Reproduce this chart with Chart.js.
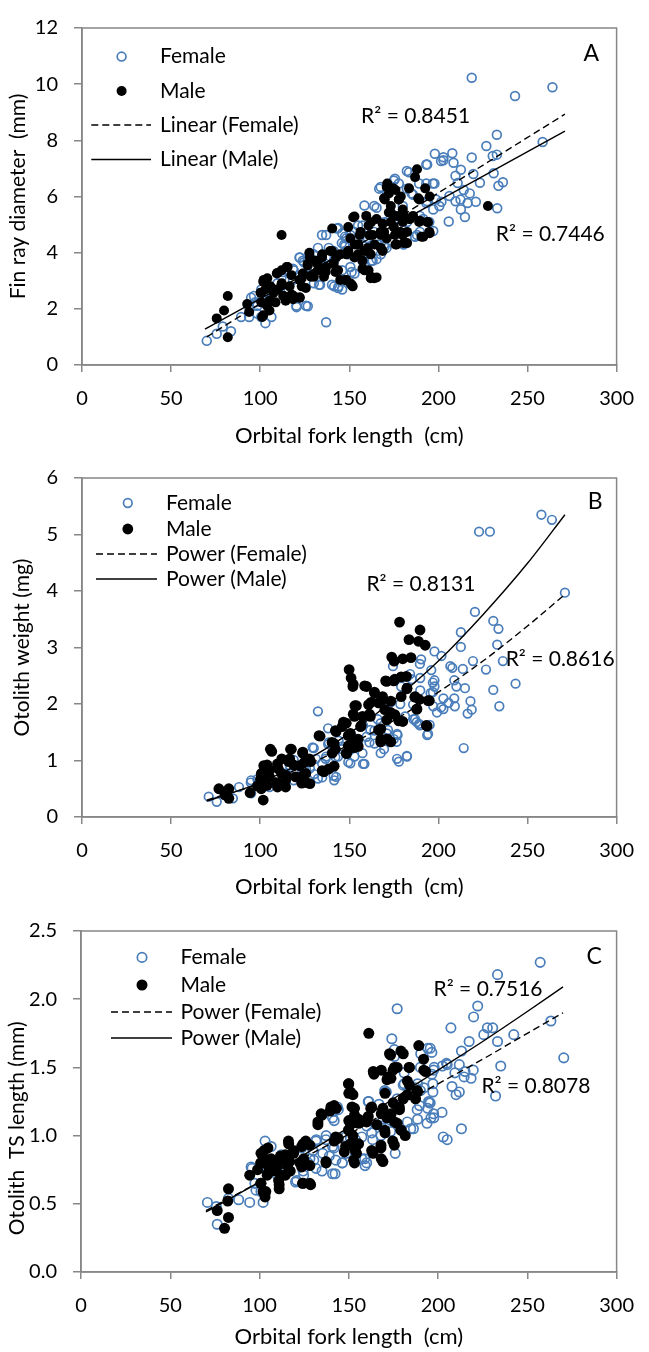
<!DOCTYPE html>
<html>
<head>
<meta charset="utf-8">
<title>Fin ray and otolith size vs orbital fork length</title>
<script src="https://cdn.jsdelivr.net/npm/chart.js@4.4.1/dist/chart.umd.min.js"></script>
<style>
  body { margin: 0; background: #fff; }
  canvas { position: absolute; left: 0; }
</style>
</head>
<body>
<canvas id="chartA" width="649" height="460" style="top:0px"></canvas>
<canvas id="chartB" width="649" height="460" style="top:450px"></canvas>
<canvas id="chartC" width="649" height="460" style="top:892px"></canvas>
<script>
// ---- data: [orbital fork length (cm), value] ----
const femaleFinRay = [
  [218.7,10.23],[264,9.89],[243,9.58],[258.5,7.94],[232.8,8.2],[226.9,7.8],[232.8,7.49],[230.5,7.44],
  [218.7,7.39],[198,7.52],[207.8,7.54],[202.8,7.4],[202.8,7.29],[193.7,7.14],[208.5,7.2],[212.6,6.95],
  [219.6,6.8],[231,6.83],[183.5,6.86],[209.6,6.74],[236.2,6.51],[233.7,6.38],[223.3,6.49],[197.8,6.46],
  [189.2,6.46],[210.8,6.48],[167.6,6.34],[175.6,6.63],[177.8,6.46],[214.2,6.23],[217.6,6.11],[206.2,6.02],
  [212.4,5.89],[221,5.81],[209.6,5.83],[216.4,5.77],[201.7,5.81],[233,5.58],[212.6,5.54],[214.9,5.27],
  [205.8,5.11],[193.7,5.83],[197.1,5.54],[158.5,5.68],[165.3,5.6],[185.8,6.06],[180,5.66],[186.9,4.57],
  [197.1,4.77],[172.2,5.14],[157.4,4.97],[143.7,4.88],[137,4.63],[148.3,4.51],[147.2,4.29],[152.9,4.4],
  [146,4.69],[152.9,4.74],[163.1,3.71],[165.3,3.77],[166.4,4.29],[169.9,4.23],[122.2,3.83],[124.5,3.66],
  [130.1,3.94],[132.4,4.17],[137,3.83],[127.9,3.26],[133.6,2.86],[130.1,2.91],[141.5,2.8],[143.7,2.74],
  [146,2.69],[146,3.37],[152.9,3.26],[120.4,2.06],[126.7,2.09],[137,1.52],[112,3.14],[114.3,2.57],
  [100.6,1.71],[102.9,1.49],[106.3,1.71],[94.9,2.4],[93.8,1.71],[89.3,1.71],[98.3,1.83],[93.8,2.06],
  [75.6,1.11],[83.6,1.2],[79,1.37],[70,0.86],[105.2,2.34],[100.6,2.69],[134.7,4.63],[150.6,4.63],
  [155,4.29],[159.7,4.06],[170.9,4.17],[176.6,4.91],[182.4,5.09],[191.5,5.2],[188,4.63],[194.9,5.09],
  [200.5,5.66],[173.3,5.43],[159.7,4.51],[141.5,3.71],[118.8,3.37],[124.5,3.26],[134.7,3.49],[150.6,3.49],
  [157.4,3.71],[109.7,2.91],[104,2.46],[97.2,2.23],
  [143,4.86],[147.6,4.57],[145.8,4.34],[154.9,4.97],[156.8,4.69],[164,5.66],[166.8,6.28],[175,6.57],
  [182.3,6.91],[193.2,7.14],[201.5,7.26],[196.9,6.46],[198.7,5.89],[193.2,5.77],[189.6,5.31],[186.9,4.57],
  [178.6,4.4],[180.5,4.29],[169.5,4.29],[167.7,3.94],[162.2,3.71],[157.7,3.71],[151.3,3.31],[149.4,2.91],
  [144,2.8],[140.3,2.86],[133,2.86],[132.1,3.14],[129.4,3.49],[123.9,3.71],[122.1,3.83],[118.4,3.43],
  [125.7,2.11],[120.3,2.11],[112.9,3.31],[111.1,2.69],[105.7,2.34],[96.5,2.46],[98.4,2.11],[141.2,4.06],
  [138.5,4.17],[147.6,4.23],[171.3,6.11],[182.3,6.28],[185,6.11],[193.2,6.46],[189.6,4.74],[175,5.08],
  [169.5,5.08],[164,4.74],[160.4,4.51],[149.4,3.94],[136.7,3.6],[131.2,3.71],[127.6,3.94],[118.4,3.03]
];
const maleFinRay = [
  [112,4.63],[81.8,2.46],[79.7,1.94],[75.6,1.66],[81.8,0.99],[92.7,2.17],[93.8,1.89],[101.7,1.77],
  [105.2,1.94],[100.6,2.57],[101.7,2.97],[104,3.09],[106.3,2.74],[109.7,2.69],[112,2.86],[109.7,3.28],
  [113.2,2.46],[114.3,2.29],[117.6,2.51],[116.5,2.8],[122.2,2.4],[123.3,2.8],[125.6,2.74],[115.4,3.49],
  [123.3,3.09],[127.9,3.83],[126.7,3.54],[131.2,3.71],[134.7,3.83],[137,3.49],[135.8,3.14],[132.4,3.37],
  [130.1,3.14],[139.2,4.06],[140.4,4.86],[142.6,3.83],[143.7,3.37],[144.9,3.03],[148.3,3.03],[150.6,2.91],
  [151.9,2.8],[149.4,4.06],[150.6,4.51],[152.9,5.29],[155,4.29],[156.3,4.74],[157.4,3.71],[158.5,4.06],
  [157.4,3.43],[160.8,3.37],[162,3.09],[165.3,3.12],[162,3.94],[160.8,4.97],[163.1,4.63],[164.2,4.29],
  [165.3,5.2],[167.6,4.74],[168.7,4.06],[168.7,5.03],[169.9,5.89],[171,6.34],[172.2,6.11],[173.3,5.66],
  [174.5,6.29],[172.2,5.43],[173.3,5.09],[175.6,4.63],[176.6,4.29],[177.8,5.89],[178.9,6.0],[180,5.54],
  [180,5.09],[180,4.63],[182.4,4.34],[183.5,6.29],[183.5,5.2],[185.8,5.31],[186.9,6.69],[188,6.97],
  [189.2,5.89],[189.2,5.09],[191.5,4.57],[192.6,6.29],[193.7,5.09],[194.9,4.74],[227.8,5.66],[182.4,4.74],
  [176.6,5.31],[171,4.51],[152.9,3.83],[148.3,3.94],[118.8,2.46],[108.6,2.23],[105.2,2.29],[112,3.37],
  [100.6,2.23],[102.9,2.69],
  [171.3,6.46],[175.9,6.23],[169.5,5.94],[177.8,5.89],[188.7,5.94],[195.1,6.0],[173.2,5.43],[180.5,5.37],
  [184.1,5.2],[189.6,5.14],[194.2,5.08],[195.1,4.69],[190.5,4.57],[178.6,4.74],[175,4.91],[169.5,4.74],
  [175.9,4.29],[180.5,4.34],[167.7,4.17],[167.7,4.63],[162.2,5.08],[159.5,5.31],[152.2,5.26],[149.4,4.91],
  [155.9,4.63],[161.3,4.63],[153.1,4.29],[149.4,4.06],[154.9,3.94],[160.4,4.17],[158.6,3.37],[162.2,3.14],
  [164,3.09],[151.3,2.86],[147.6,3.03],[142.2,3.31],[141.2,3.6],[144.9,3.94],[140.3,4.06],[134.8,3.94],
  [132.1,3.6],[136.7,3.31],[127.6,4.0],[126.6,3.6],[123.9,3.26],[128.5,3.14],[122.1,3.03],[117.5,3.2],
  [114.8,3.49],[109.3,3.26],[112.1,2.91],[105.7,2.8],[102,3.03],[100.2,2.57],[107.5,2.57],[112.9,2.46],
  [118.4,2.34],[122.1,2.4],[103.8,2.11],[101.1,1.71]
];
const femaleOtoWeight = [
  [257.8,5.35],[263.7,5.26],[222.8,5.05],[228.9,5.05],[271,3.97],[220.5,3.63],[230.8,3.47],[233.7,3.33],
  [212.6,3.27],[212.6,3.01],[233,3.05],[197.8,2.93],[201.7,2.85],[190.3,2.79],[236.2,2.76],[219.4,2.76],
  [206.7,2.67],[207.8,2.64],[213.7,2.62],[226.7,2.61],[196,2.6],[189.8,2.46],[197.8,2.42],[208.9,2.42],
  [243.3,2.36],[197.8,2.31],[210.1,2.31],[214.9,2.28],[230.8,2.25],[189.8,2.24],[195.6,2.19],[202.8,2.1],
  [208.9,2.1],[218,2.05],[205.8,2.02],[209.2,1.96],[202.8,1.91],[197.1,1.96],[234.2,1.96],[218.7,1.9],
  [216.4,1.83],[199.2,1.85],[186.9,1.73],[189.2,1.65],[195.1,1.63],[193.7,1.45],[214.2,1.22],[132.4,1.87],
  [138.1,1.57],[174.5,2.67],[182.4,2.48],[179.1,2.31],[177.1,1.45],[176.6,1.33],[167.6,1.13],[177.8,0.98],
  [182.4,1.07],[158.5,0.94],[150.6,0.95],[157.4,1.13],[164.2,1.3],[171,1.48],[130.1,1.22],[138.1,1.29],
  [143.7,1.07],[142.6,0.71],[141.5,0.65],[132.4,0.68],[124.5,0.86],[118.8,1.01],[114.3,0.77],[109.7,0.59],
  [105.2,0.53],[100.6,0.59],[94.9,0.65],[94.9,0.42],[88.1,0.53],[84.7,0.33],[75.6,0.27],[71.1,0.36],
  [80.2,0.39],[127.9,0.86],[134.7,0.95],[146,1.25],[150.6,1.19],[155,1.33],[161.8,1.54],[167.6,1.66],
  [171.7,1.54],[181.3,1.78],[185.8,1.99],[118.8,0.65],[123.3,0.77],[137,1.07],[152.9,1.07],[159.7,1.42],
  [129.4,1.23],[138.5,1.32],[144,1.35],[149.4,0.97],[157.7,0.94],[141.2,0.73],[134.8,0.7],[130.3,0.76],
  [123.9,0.76],[116.6,0.91],[161.3,1.32],[164.1,1.53],[169.5,1.2],[176.8,1.03],[182.3,1.08],[176.8,1.47],
  [175,1.38],[186,1.73],[187.8,1.68],[194.2,1.47],[189.6,1.62],[196.9,2.38],[196.9,2.21],[201.5,1.94],
  [185,2.44],[189.6,2.71],[184.1,2.53],[173.2,2.03],[178.6,2.0],[165.9,1.73],[157.7,1.62],[151.3,1.44],
  [145.8,1.2],[142.2,1.06],[136.7,1.03],[131.2,1.03],[125.7,0.85],[120.3,0.79],[112.9,0.73],[105.7,0.61],
  [98.4,0.67],[94.7,0.61]
];
const maleOtoWeight = [
  [178.2,3.45],[189.7,3.31],[183.5,3.14],[188.8,3.11],[192.6,3.04],[173.8,2.83],[175.2,2.76],[180,2.8],
  [184.6,2.82],[149.9,2.61],[151,2.46],[152,2.31],[171,2.4],[175.6,2.44],[179.1,2.48],[182,2.49],
  [159.7,2.31],[164.2,2.19],[182.4,2.28],[168.7,2.13],[160.8,1.99],[166.4,2.02],[173.3,2.05],[179.1,2.13],
  [186.9,2.13],[194.9,2.06],[188,1.91],[154,1.97],[152.9,1.78],[169.9,1.9],[175.6,1.81],[180,1.69],
  [161.8,1.78],[148.3,1.66],[156.3,1.6],[166.4,1.54],[193.7,1.61],[171,1.38],[173.3,1.33],[167.6,1.33],
  [142.6,1.51],[133.6,1.43],[150.6,1.48],[152.9,1.36],[155,1.25],[148.3,1.13],[150.6,1.22],[141.5,1.3],
  [140.4,1.13],[106.5,1.16],[117,1.2],[123.8,1.13],[116,0.98],[118.8,0.92],[128.3,0.98],[124.5,0.96],
  [141.5,0.9],[135.8,0.8],[103.9,0.92],[109.7,0.94],[105.2,0.83],[100.6,0.77],[105.2,0.71],[112,0.77],
  [114.3,0.65],[109.7,0.53],[103.9,0.56],[100.6,0.5],[101.7,0.3],[94.3,0.43],[114.3,0.53],[123.3,0.6],
  [127.9,0.59],[125.6,0.77],[119.9,0.71],[76.8,0.5],[82.4,0.5],[82.4,0.33],[80.2,0.39],[189.2,2.08],
  [171,1.72],[157.4,1.78],[146,1.6],
  [152.2,2.35],[158.6,2.32],[164.1,2.21],[170.4,2.41],[175,2.41],[182.3,2.27],[186.8,2.12],[194.2,2.06],
  [187.8,1.91],[193.2,1.62],[177.8,1.7],[173.2,1.85],[167.7,2.03],[162.2,2.03],[161.3,1.82],[153.1,1.97],
  [152.2,1.82],[146.7,1.68],[156.7,1.62],[142.2,1.53],[149.4,1.44],[154.9,1.38],[167.7,1.56],[167.7,1.38],
  [171.3,1.38],[149.4,1.26],[153.1,1.23],[148.5,1.12],[140.3,1.32],[133,1.44],[142.2,1.2],[138.5,0.85],
  [134.8,0.82],[127.6,1.03],[123.9,1.15],[117.5,1.2],[105.7,1.2],[116.6,1.03],[122.1,0.91],[125.7,0.61],
  [123.9,0.73],[114.8,0.73],[109.3,0.61],[103.8,0.79],[102,0.91],[100.2,0.67],[98.4,0.55],[112.1,1.03],
  [110.2,0.85]
];
const femaleTsLength = [
  [257.2,2.27],[233.3,2.18],[177.1,1.93],[222.2,1.95],[219.9,1.87],[263.2,1.84],[207.2,1.79],[227.6,1.79],
  [230.6,1.79],[242.4,1.74],[225.6,1.74],[174.1,1.71],[233.3,1.69],[217.4,1.69],[194.2,1.64],[175.5,1.63],
  [196.5,1.61],[190.3,1.6],[213.1,1.62],[205.1,1.52],[211.9,1.52],[202.4,1.51],[197.8,1.5],[235.1,1.51],
  [219.7,1.48],[215.1,1.47],[209.4,1.46],[214.6,1.43],[218.5,1.42],[270.4,1.57],[188.5,1.38],[197.1,1.38],
  [207.8,1.36],[180.5,1.37],[197.1,1.32],[211.9,1.32],[210.1,1.3],[232.2,1.29],[170.3,1.32],[177.1,1.27],
  [161.2,1.25],[195.1,1.24],[189.6,1.22],[194.2,1.2],[166.9,1.23],[202.2,1.17],[188.5,1.12],[196,1.13],
  [197.6,1.13],[169.1,1.12],[213.1,1.05],[186.2,1.05],[205.1,0.97],[141.8,1.18],[141.8,1.11],[144.1,1.19],
  [155.5,1.1],[160,1.07],[163.4,0.97],[168,1.0],[173.4,1.03],[176,0.87],[160,0.8],[158.9,0.83],
  [148.6,0.87],[146.4,0.8],[142.3,0.72],[135,0.74],[131.6,0.76],[130.4,0.82],[128.2,0.83],[137.3,1.0],
  [131.6,0.96],[141.8,0.91],[139.1,0.85],[123.6,0.91],[120.2,0.66],[124.7,0.71],[103.1,0.96],[106.5,0.92],
  [113.4,0.78],[115.6,0.81],[95.8,0.76],[97.4,0.65],[100.8,0.59],[102,0.51],[94.5,0.51],[88.3,0.53],
  [82.6,0.54],[70.8,0.51],[76.3,0.35],[75.8,0.48],[104.3,0.74],[109.9,0.71],[112.2,0.86],[150.9,0.98],
  [153.2,0.93],[182.8,1.1],[187.4,1.35],[192,1.35],[196.5,1.45],
  [140.9,1.13],[143.6,1.21],[160.9,1.25],[170.1,1.33],[181,1.38],[190.1,1.33],[195.6,1.24],[188.3,1.19],
  [197.5,1.16],[193.8,1.09],[184.7,1.05],[173.7,1.11],[168.2,1.07],[162.8,1.02],[157.3,0.99],[153.7,0.97],
  [148.2,0.99],[140.9,0.92],[137.2,0.97],[131.8,0.97],[129.9,0.89],[135.4,0.87],[142.7,0.82],[146.3,0.8],
  [157.3,0.83],[159.1,0.78],[140.9,0.72],[127.2,0.8],[120.8,0.67],[124.4,0.74],[98,0.6],[95.3,0.77],
  [175.5,1.58],[181,1.46],[171,1.32],[194.7,1.25],[202.9,0.99],[190.1,1.5],[197.5,1.48],[195.6,1.64],
  [204.7,1.53]
];
const maleTsLength = [
  [161.2,1.75],[189.2,1.66],[191.9,1.56],[180.5,1.6],[173.4,1.59],[193,1.47],[183.9,1.5],[177.1,1.5],
  [174.8,1.48],[164.1,1.45],[171.4,1.41],[182.8,1.4],[184,1.37],[149.8,1.38],[150.9,1.32],[152.3,1.3],
  [170.3,1.31],[180.5,1.27],[187.4,1.27],[188.5,1.32],[174.8,1.24],[178.4,1.19],[169.1,1.2],[162.3,1.2],
  [153.2,1.2],[143,1.2],[139.5,1.18],[135,1.15],[132.7,1.08],[153.2,1.15],[155.5,1.12],[160,1.1],
  [165.7,1.08],[171.4,1.13],[177.1,1.09],[179.3,1.04],[181.6,1.0],[170.3,1.02],[150.9,1.08],[149.8,1.04],
  [152.3,1.0],[155.5,0.94],[150.9,0.94],[144.1,0.98],[141.8,0.96],[147.5,0.88],[154.3,0.87],[163.6,0.87],
  [168,0.93],[168,0.91],[175.5,0.93],[153.2,0.8],[169.1,0.81],[137.3,0.8],[128.2,0.93],[125.9,0.96],
  [123.6,0.92],[116.3,0.94],[119.1,0.87],[114.5,0.86],[112.2,0.83],[116.8,0.81],[124.7,0.83],[128.2,0.78],
  [123.6,0.77],[114.5,0.71],[115.6,0.78],[104.7,0.91],[100.8,0.87],[103.1,0.82],[106.5,0.83],[100.8,0.8],
  [105.2,0.77],[109.9,0.78],[108.8,0.74],[112.2,0.71],[104.3,0.71],[94.5,0.71],[100.8,0.65],[111,0.64],
  [111,0.61],[103.1,0.55],[102,0.59],[124.1,0.65],[128.6,0.64],[82.6,0.61],[82.2,0.52],[76.3,0.45],
  [82.6,0.4],[80.4,0.32],[173.6,1.42],
  [172.8,1.6],[179.2,1.62],[183.8,1.5],[175.6,1.5],[168.2,1.48],[163.7,1.47],[192,1.48],[171.9,1.43],
  [150,1.38],[150,1.31],[188.3,1.33],[182.8,1.3],[178.3,1.21],[173.7,1.16],[168.2,1.16],[162.8,1.21],
  [160.9,1.14],[151.8,1.21],[141.8,1.22],[140,1.21],[134.5,1.16],[132.7,1.1],[150,1.11],[155.5,1.09],
  [150,1.04],[142.7,0.99],[148.2,0.92],[153.7,0.89],[152.7,0.82],[162.8,0.89],[168.2,0.83],[174.6,0.96],
  [170.1,1.04],[175.6,1.1],[179.2,1.04],[137.2,0.81],[124.4,0.94],[119,0.89],[122.6,0.8],[116.2,0.96],
  [111.7,0.85],[117.2,0.74],[110.7,0.67],[105.3,0.82],[102.5,0.89],[100.7,0.8],[98.9,0.75],[104.4,0.72],
  [100.7,0.65],[103.5,0.59],[124.4,0.65],[128.1,0.65]
];

// trendlines as drawn in the figure
const finRayFitFemale = [[70,1.0],[271,8.93]];
const finRayFitMale = [[69,1.28],[271,8.33]];
const otoWeightFitFemale = [[70,0.3],[100,0.59],[125,0.9],[150,1.28],[175,1.71],[200,2.21],[225,2.76],[250,3.38],[271,3.94]];
const otoWeightFitMale = [[70,0.28],[100,0.61],[125,0.99],[150,1.48],[175,2.07],[200,2.76],[225,3.58],[250,4.49],[271,5.35]];
const tsFitFemale = [[70,0.45],[100,0.66],[125,0.84],[150,1.01],[175,1.2],[200,1.38],[225,1.56],[250,1.75],[270,1.9]];
const tsFitMale = [[70,0.44],[100,0.66],[125,0.86],[150,1.06],[175,1.27],[200,1.48],[225,1.69],[250,1.91],[270,2.09]];

const xTicks = [0, 50, 100, 150, 200, 250, 300];
const r2FinRay = ['R\u00b2 = 0.8451', 'R\u00b2 = 0.7446'];
const r2OtoWeight = ['R\u00b2 = 0.8131', 'R\u00b2 = 0.8616'];
const r2TsLength = ['R\u00b2 = 0.7516', 'R\u00b2 = 0.8078'];

const FONT = 'Lato, "Open Sans", sans-serif';
const BLUE = '#4a7ebb';
const GREY = '#878787';

const toXY = pts => pts.map(p => ({ x: p[0], y: p[1] }));

// border round the plot area, legend block, R2 labels and panel letter
const decor = {
  id: 'decor',
  beforeDatasetsDraw(chart) {
    const a = chart.chartArea, c = chart.ctx;
    c.save();
    c.strokeStyle = GREY;
    c.lineWidth = 1.5;
    c.strokeRect(a.left, a.top, a.right - a.left, a.bottom - a.top);
    c.restore();
  },
  afterDraw(chart, args, o) {
    const a = chart.chartArea, c = chart.ctx;
    const sx = chart.scales.x, sy = chart.scales.y;
    c.save();
    c.fillStyle = '#000';
    c.textBaseline = 'middle';
    c.font = '21px ' + FONT;
    // legend
    o.legend.forEach((txt, i) => {
      const y = a.top + o.rows[i];
      if (i === 0) {
        c.beginPath(); c.arc(a.left + o.markX, y, o.femaleR, 0, Math.PI * 2);
        c.strokeStyle = BLUE; c.lineWidth = 1.7; c.stroke();
      } else if (i === 1) {
        c.beginPath(); c.arc(a.left + o.markX, y, o.maleR, 0, Math.PI * 2);
        c.fill();
      } else {
        c.beginPath();
        c.setLineDash(i === 2 ? [7, 4] : []);
        c.moveTo(a.left + o.line[0], y); c.lineTo(a.left + o.line[1], y);
        c.strokeStyle = '#000'; c.lineWidth = 1.4; c.stroke();
        c.setLineDash([]);
      }
      c.textAlign = 'left';
      c.fillText(txt, a.left + o.textX, y);
    });
    // R2 labels and letter
    c.textAlign = 'center';
    o.labels.forEach(l => {
      c.font = (l.size || 21) + 'px ' + FONT;
      c.fillText(l.text, sx.getPixelForValue(l.x), sy.getPixelForValue(l.y));
    });
    c.restore();
  }
};

function panel(id, p) {
  const H = 460;
  return new Chart(document.getElementById(id), {
    type: 'scatter',
    data: {
      datasets: [
        { data: toXY(p.fitFemale), showLine: true, borderColor: '#000', borderWidth: 1.4,
          borderDash: [7, 4], pointRadius: 0, order: 0, cubicInterpolationMode: 'monotone' },
        { data: toXY(p.fitMale), showLine: true, borderColor: '#000', borderWidth: 1.4,
          pointRadius: 0, order: 0, cubicInterpolationMode: 'monotone' },
        { data: toXY(p.male), pointRadius: p.maleR, pointBackgroundColor: '#000',
          pointBorderWidth: 0, order: 1 },
        { data: toXY(p.female), pointRadius: p.femaleR, pointBackgroundColor: 'rgba(0,0,0,0)',
          pointBorderColor: BLUE, pointBorderWidth: 1.7, order: 2 }
      ]
    },
    options: {
      responsive: false,
      animation: false,
      devicePixelRatio: 1,
      layout: { padding: { top: p.top, right: 649 - p.right, left: 0, bottom: 0 } },
      plugins: {
        legend: { display: false },
        tooltip: { enabled: false },
        decor: p.decor
      },
      scales: {
        x: {
          type: 'linear', min: 0, max: 300,
          afterFit: s => { s.height = H - p.bottom; },
          afterBuildTicks: s => { s.ticks = xTicks.map(v => ({ value: v })); },
          ticks: { font: { family: FONT, size: 20 }, color: '#000', padding: 15 },
          grid: { drawOnChartArea: false, color: GREY, lineWidth: 1.5, tickLength: 7 },
          border: { color: GREY, width: 1.5 },
          title: { display: true, text: 'Orbital fork length  (cm)', color: '#000',
                   font: { family: FONT, size: 22 }, padding: { top: 0, bottom: p.xTitlePad } }
        },
        y: {
          type: 'linear', min: 0, max: p.yMax,
          afterFit: s => { s.width = p.left; },
          ticks: { stepSize: p.yStep, font: { family: FONT, size: 20 }, color: '#000', padding: 16,
                   callback: p.yFmt },
          grid: { drawOnChartArea: false, color: GREY, lineWidth: 1.5, tickLength: 8 },
          border: { color: GREY, width: 1.5 },
          title: { display: true, text: p.yTitle, color: '#000',
                   font: { family: FONT, size: 21 }, padding: { top: p.yTitlePad, bottom: 0 } }
        }
      }
    },
    plugins: [decor]
  });
}

panel('chartA', {
  female: femaleFinRay, male: maleFinRay, fitFemale: finRayFitFemale, fitMale: finRayFitMale,
  top: 15, bottom: 365, left: 82, right: 630, xTitlePad: 11, yTitlePad: 6,
  yMax: 12, yStep: 2, yFmt: v => v, yTitle: 'Fin ray diameter  (mm)',
  femaleR: 4.4, maleR: 5,
  decor: {
    legend: ['Female', 'Male', 'Linear (Female)', 'Linear (Male)'],
    rows: [28.6, 63, 97, 131.5], markX: 39.6, textX: 78, line: [9.3, 69], femaleR: 4.4, maleR: 5,
    labels: [
      { text: r2FinRay[0], x: 187.2, y: 8.86 },
      { text: r2FinRay[1], x: 262.8, y: 4.65 },
      { text: 'A', x: 285.8, y: 11.09, size: 23 }
    ]
  }
});

panel('chartB', {
  female: femaleOtoWeight, male: maleOtoWeight, fitFemale: otoWeightFitFemale, fitMale: otoWeightFitMale,
  top: 27, bottom: 367, left: 82, right: 630, xTitlePad: 10, yTitlePad: 10,
  yMax: 6, yStep: 1, yFmt: v => v, yTitle: 'Otolith weight (mg)',
  femaleR: 4.3, maleR: 5.4,
  decor: {
    legend: ['Female', 'Male', 'Power (Female)', 'Power (Male)'],
    rows: [25, 51, 76, 101], markX: 45.8, textX: 84, line: [14, 75], femaleR: 4.3, maleR: 5.4,
    labels: [
      { text: r2OtoWeight[0], x: 190.2, y: 4.12 },
      { text: r2OtoWeight[1], x: 268.3, y: 2.8 },
      { text: 'B', x: 288, y: 5.59, size: 23 }
    ]
  }
});

panel('chartC', {
  female: femaleTsLength, male: maleTsLength, fitFemale: tsFitFemale, fitMale: tsFitMale,
  top: 39, bottom: 380, left: 81, right: 629, xTitlePad: 1.5, yTitlePad: 5,
  yMax: 2.5, yStep: 0.5, yFmt: v => v.toFixed(1), yTitle: 'Otolith  TS length (mm)          ',
  femaleR: 4.7, maleR: 5.5,
  decor: {
    legend: ['Female', 'Male', 'Power (Female)', 'Power (Male)'],
    rows: [26.4, 54, 81, 107], markX: 61, textX: 99.5, line: [30, 91], femaleR: 4.7, maleR: 5.5,
    labels: [
      { text: r2TsLength[0], x: 228, y: 2.07 },
      { text: r2TsLength[1], x: 254.8, y: 1.36 },
      { text: 'C', x: 287.4, y: 2.31, size: 23 }
    ]
  }
});
</script>
</body>
</html>
